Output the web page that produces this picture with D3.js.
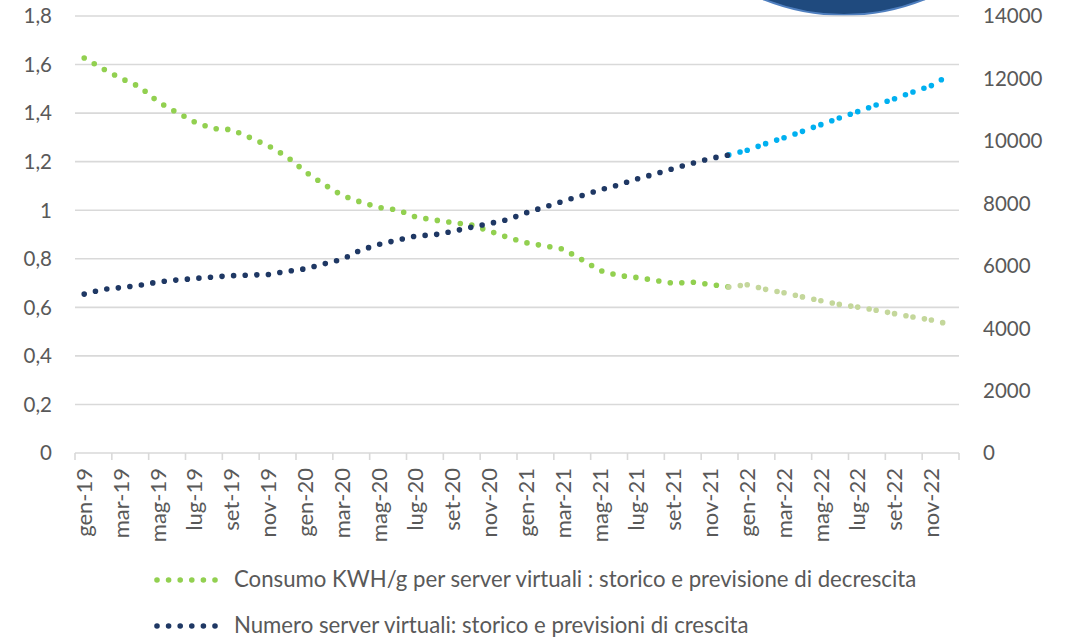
<!DOCTYPE html>
<html>
<head>
<meta charset="utf-8">
<script src="https://cdn.jsdelivr.net/npm/d3@7"></script>
<style>
  body { margin: 0; background: #fff; }
  svg { display: block; }
  text { font-family: Lato, "Open Sans", sans-serif; fill: #595959; }
</style>
</head>
<body>
<svg width="1071" height="638"></svg>
<script>
// mesi (asse categorie)
const monthNames = ['gen','feb','mar','apr','mag','giu','lug','ago','set','ott','nov','dic'];
const years = ['19','20','21','22'];
const months = years.flatMap(y => monthNames.map(m => `${m}-${y}`));

// Consumo KWH/g per server virtuali (asse sinistro)
const consumo = [1.627,1.583,1.543,1.509,1.447,1.404,1.363,1.336,1.332,1.299,1.265,1.221,
                 1.159,1.107,1.061,1.034,1.011,1.002,0.972,0.960,0.949,0.940,0.914,0.888,
                 0.866,0.853,0.840,0.797,0.752,0.731,0.723,0.711,0.699,0.704,0.694,0.684,
                 0.693,0.674,0.660,0.643,0.627,0.612,0.601,0.588,0.574,0.560,0.548,0.530];

// Numero server virtuali (asse destro)
const numServer = [5090,5240,5300,5370,5480,5540,5590,5640,5680,5700,5720,5820,
                   5900,6055,6200,6500,6680,6820,6950,6990,7100,7230,7350,7480,
                   7695,7880,8065,8245,8425,8585,8780,8940,9115,9280,9435,9550,
                   9700,9910,10100,10305,10520,10730,10935,11150,11350,11565,11770,12120];

// first index of the forecast ("previsione")
const forecastFrom = 35;

const leftTicks = [0,0.2,0.4,0.6,0.8,1,1.2,1.4,1.6,1.8];
const rightTicks = [0,2000,4000,6000,8000,10000,12000,14000];

const legendLabels = [
    'Consumo KWH/g per server virtuali : storico e previsione di decrescita',
    'Numero server virtuali: storico e previsioni di crescita'
];

const colors = {
    consumo: '#92D050', consumoFc: '#C4D79B',
    server: '#1F3864', serverFc: '#00B0F0',
    grid: '#D9D9D9'
};

const svg = d3.select('svg');
const plot = { left: 75, right: 959, top: 16, bottom: 453 };

const x = d3.scaleBand().domain(months).range([plot.left, plot.right]).padding(0);
const cx = d => x(d) + x.bandwidth() / 2;
const yL = d3.scaleLinear().domain([0, 1.8]).range([plot.bottom, plot.top]);
const yR = d3.scaleLinear().domain([0, 14000]).range([plot.bottom, plot.top]);

const fmtIt = v => d3.format('.1f')(v).replace(/\.0$/, '').replace('.', ',');

// decorative circle cut at the top
svg.append('circle')
    .attr('cx', 844).attr('cy', -200).attr('r', 215)
    .attr('fill', '#1F4A7E')
    .attr('stroke', '#4F7FBF').attr('stroke-width', 2);

// gridlines
svg.append('g').selectAll('line')
    .data(leftTicks.filter(t => t > 0))
    .join('line')
    .attr('x1', plot.left).attr('x2', plot.right)
    .attr('y1', d => yL(d)).attr('y2', d => yL(d))
    .attr('stroke', colors.grid).attr('stroke-width', 1.6);

// left axis labels
svg.append('g').selectAll('text')
    .data(leftTicks)
    .join('text')
    .attr('x', 52).attr('y', d => yL(d))
    .attr('dy', '0.36em')
    .attr('text-anchor', 'end')
    .style('font-size', '20.5px')
    .text(fmtIt);

// right axis labels
svg.append('g').selectAll('text')
    .data(rightTicks)
    .join('text')
    .attr('x', 983).attr('y', d => yR(d))
    .attr('dy', '0.36em')
    .style('font-size', '20.5px')
    .text(d => d);

// x axis
const xAxis = svg.append('g');
xAxis.append('line')
    .attr('x1', plot.left).attr('x2', plot.right)
    .attr('y1', plot.bottom).attr('y2', plot.bottom)
    .attr('stroke', colors.grid).attr('stroke-width', 1.6);
const tickPos = months.filter((d, i) => i % 2 === 0).map(d => x(d)).concat([plot.right]);
xAxis.selectAll('line.tick')
    .data(tickPos)
    .join('line')
    .attr('class', 'tick')
    .attr('x1', d => d).attr('x2', d => d)
    .attr('y1', plot.bottom).attr('y2', plot.bottom + 7)
    .attr('stroke', colors.grid).attr('stroke-width', 1.6);
xAxis.selectAll('text')
    .data(months.filter((d, i) => i % 2 === 0))
    .join('text')
    .attr('transform', d => `translate(${cx(d)},${plot.bottom + 15}) rotate(-90)`)
    .attr('dy', '0.35em')
    .attr('text-anchor', 'end')
    .style('font-size', '22px')
    .text(d => d);

// dotted lines
const dotStyle = sel => sel
    .attr('fill', 'none')
    .attr('stroke-width', 5.6)
    .attr('stroke-linecap', 'round')
    .attr('stroke-dasharray', '0 11.6');

const drawSeries = (values, yScale, histColor, fcColor, histOnTop) => {
    const pts = months.map((m, i) => [cx(m), yScale(values[i])]);
    const line = d3.line();
    const g = svg.append('g');
    const drawHist = () => g.append('path')
        .attr('d', line(pts.slice(0, forecastFrom + 1)))
        .attr('stroke', histColor)
        .call(dotStyle);
    const drawFc = () => {
        // every forecast segment restarts the dot pattern
        for (let i = forecastFrom; i < pts.length - 1; i++) {
            g.append('path')
                .attr('d', line([pts[i], pts[i + 1]]))
                .attr('stroke', fcColor)
                .call(dotStyle);
        }
    };
    if (histOnTop) { drawFc(); drawHist(); } else { drawHist(); drawFc(); }
};

drawSeries(consumo, yL, colors.consumo, colors.consumoFc, false);
drawSeries(numServer, yR, colors.server, colors.serverFc, true);

// legend
const legend = svg.append('g');
[[colors.consumo, 580], [colors.server, 626]].forEach(([c, y], i) => {
    legend.append('line')
        .attr('x1', 157).attr('x2', 215.5)
        .attr('y1', y).attr('y2', y)
        .attr('stroke', c)
        .call(dotStyle);
    legend.append('text')
        .attr('x', 234).attr('y', y)
        .attr('dy', '0.3em')
        .style('font-size', '22.2px')
        .text(legendLabels[i]);
});
</script>
</body>
</html>
